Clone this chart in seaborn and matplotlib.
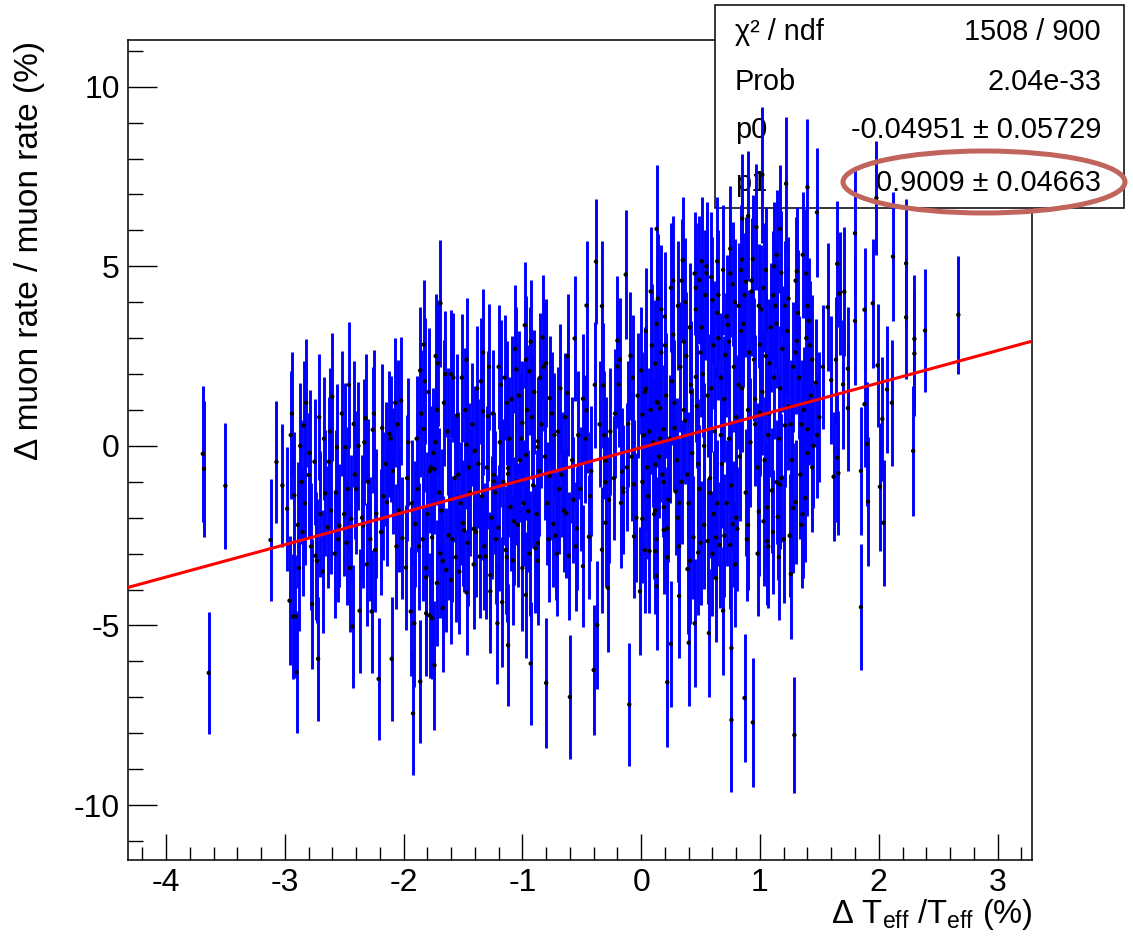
import numpy as np
import pandas as pd
import matplotlib
matplotlib.use("Agg")
import matplotlib.pyplot as plt
import seaborn as sns
from matplotlib.patches import Rectangle, Ellipse
from matplotlib.ticker import MultipleLocator, FixedLocator

# ---------------- data ----------------
# isolated points on the far left
x_far = [-3.69, -3.68, -3.64, -3.50]
y_far = [-0.22, -0.64, -6.32, -1.11]
e_far = [1.90, 1.90, 1.70, 1.75]

# -3.1 .. -1.8
x_left = [-3.12, -3.07, -2.98, -2.96, -2.93, -2.91, -2.90, -2.92, -2.87, -2.84,
          -2.80, -2.75, -2.77, -2.72, -2.74, -2.66, -2.64, -2.63, -2.60, -2.56,
          -2.54, -2.49, -2.46, -2.44, -2.43, -2.42, -2.40, -2.37, -2.34, -2.32,
          -2.27, -2.26, -2.23, -2.21, -2.14, -2.12, -2.10, -2.07, -2.06, -2.02,
          -2.01, -1.98, -1.94, -1.92, -1.91, -1.90, -1.83, -1.83, -1.86, -1.81,
          -1.81]
y_left = [-2.62, -0.45, -1.75, -4.31, -4.75, -4.75, -6.30, -1.38, 0.00, 0.57,
          -0.81, -0.44, -4.40, -5.93, -3.06, -1.32, -2.27, -0.44, 1.37, -0.04,
          -2.22, -0.04, 1.70, -2.03, -5.03, 0.61, -1.20, -4.59, -2.22, 0.77,
          -4.61, 0.45, -1.89, -6.49, -1.57, 0.33, -5.93, 1.20, -2.80, 1.26,
          -2.57, -3.39, -4.61, -7.45, -4.94, -2.17, 2.82, 0.47, -6.56, -3.66,
          -4.66]
e_left = [1.70, 1.70, 1.72, 1.80, 1.75, 1.70, 1.70, 1.78, 1.75, 1.80,
          1.72, 1.75, 1.80, 1.72, 1.78, 1.75, 1.70, 1.80, 1.78, 1.75,
          1.72, 1.80, 1.75, 1.78, 1.70, 1.75, 1.80, 1.72, 1.75, 1.78,
          1.70, 1.75, 1.80, 1.70, 1.78, 1.75, 1.72, 1.80, 1.75, 1.78,
          1.70, 1.75, 1.80, 1.70, 1.78, 1.75, 1.80, 1.75, 1.72, 1.78,
          1.75]

# -1.8 .. -0.35
x_mid = [-1.69, -1.73, -1.74, -1.78, -1.76, -1.78, -1.76, -1.74, -1.72, -1.67,
         -1.64, -1.62, -1.59, -1.60, -1.55, -1.50, -1.47, -1.49, -1.41, -1.47,
         -1.40, -1.36, -1.33, -1.31, -1.27, -1.29, -1.24, -1.24, -1.21, -1.20,
         -1.17, -1.13, -1.12, -1.12, -1.12, -1.08, -1.05, -1.05, -1.00, -0.98,
         -0.97, -0.95, -0.94, -0.97, -0.93, -0.89, -0.87, -0.87, -0.87, -0.83,
         -0.80, -0.77, -0.77, -0.74, -0.65, -0.63, -0.62, -0.61, -0.60, -0.56,
         -0.49, -0.49, -0.46, -0.46, -0.44, -0.40, -0.38, -0.37]
y_mid = [3.97, 0.10, -0.65, -0.70, -2.55, -4.72, -4.80, -6.11, -3.82, -4.51,
         -3.45, -2.49, -2.60, -3.73, 0.85, -2.15, 0.03, -2.35, -2.31, -4.08,
         -0.14, -3.08, 0.96, -3.08, -4.05, 0.83, -0.81, -0.99, -4.94, -2.28,
         -4.35, 1.20, -0.62, -0.78, -5.55, -3.19, 2.13, -0.99, 0.64, 3.36,
         -0.25, -1.82, 2.08, -4.15, -6.06, -2.85, -2.71, 0.13, -0.03, 3.02,
         -6.60, 1.33, -0.84, -2.17, -1.80, -1.88, 1.47, -3.06, -6.99, 2.99,
         1.31, -3.35, 3.91, 0.99, -2.53, -6.24, 5.13, -4.99]
e_mid = [1.77, 1.75, 1.80, 1.72, 1.78, 1.75, 1.70, 1.80, 1.75, 1.78,
         1.72, 1.80, 1.75, 1.78, 1.70, 1.75, 1.80, 1.72, 1.78, 1.75,
         1.80, 1.70, 1.78, 1.75, 1.72, 1.80, 1.75, 1.78, 1.70, 1.75,
         1.80, 1.72, 1.78, 1.75, 1.70, 1.80, 1.75, 1.78, 1.72, 1.75,
         1.80, 1.70, 1.78, 1.75, 1.72, 1.80, 1.75, 1.78, 1.70, 1.75,
         1.80, 1.72, 1.78, 1.75, 1.70, 1.80, 1.75, 1.78, 1.72, 1.75,
         1.80, 1.70, 1.78, 1.75, 1.72, 1.80, 1.75, 1.78]

# -0.35 .. 1.06
x_cen = [-0.33, -0.32, -0.30, -0.30, -0.30, -0.33, -0.28, -0.20, -0.20, -0.19,
         -0.16, -0.17, -0.15, -0.15, -0.13, -0.09, -0.11, -0.06, -0.06, -0.01,
         -0.10, 0.01, 0.01, 0.04, 0.07, 0.12, 0.12, 0.13, 0.13, 0.12,
         0.13, 0.16, 0.13, 0.13, 0.19, 0.19, 0.19, 0.19, 0.22, 0.25,
         0.29, 0.32, 0.32, 0.35, 0.36, 0.39, 0.40, 0.44, 0.45, 0.46,
         0.48, 0.49, 0.51, 0.55, 0.56, 0.57, 0.58, 0.60, 0.63, 0.63,
         0.64, 0.66, 0.69, 0.71, 0.73, 0.75, 0.75, 0.76, 0.76, 0.77,
         0.81, 0.85, 0.85, 0.87, 0.94, 0.97, 1.00, 1.00, 0.99, 1.06,
         1.06, 1.05, 0.88]
y_cen = [3.89, 1.68, -0.41, -1.01, -2.14, -2.89, -3.95, 2.93, 2.21, 1.71,
         -0.72, -1.59, -1.18, -1.29, 4.77, 2.51, 0.61, -1.07, -2.52, -4.05,
         -7.20, 0.87, -2.03, 1.59, -2.93, -2.93, -0.52, 6.04, 3.40, 2.29,
         1.22, 1.05, -3.62, -3.91, 0.46, -1.01, -1.71, -2.34, -6.58, -5.51,
         -1.27, -4.18, -1.59, 5.17, 1.00, -3.43, -5.48, -2.55, -4.94, 1.92,
         -2.97, 4.62, 5.14, 4.81, -2.65, -5.21, -1.31, 4.06, -2.55, -3.68,
         5.14, -2.76, -4.59, 2.53, 3.37, 5.49, -2.76, -5.63, -7.63, -2.18,
         -2.31, 6.33, 5.19, -7.02, -7.70, 6.09, 2.82, 0.93, -1.83, -1.71,
         -2.65, 2.50, 4.57]
e_cen = [1.80, 1.75, 1.78, 1.72, 1.80, 1.75, 1.78, 1.80, 1.72, 1.75,
         1.78, 1.80, 1.75, 1.72, 1.80, 1.78, 1.75, 1.80, 1.72, 1.78,
         1.70, 1.75, 1.80, 1.78, 1.72, 1.75, 1.80, 1.77, 1.75, 1.78,
         1.80, 1.72, 1.75, 1.78, 1.80, 1.75, 1.72, 1.78, 1.80, 1.75,
         1.78, 1.72, 1.80, 1.75, 1.78, 1.80, 1.75, 1.72, 1.78, 1.80,
         1.75, 1.78, 1.80, 1.72, 1.75, 1.78, 1.80, 1.75, 1.72, 1.78,
         1.80, 1.75, 1.78, 1.72, 1.80, 1.75, 1.78, 1.80, 2.00, 1.75,
         1.72, 1.80, 1.75, 1.78, 1.80, 1.75, 1.72, 1.78, 1.80, 1.75,
         1.78, 1.72, 1.80]

# 1.0 .. 2.7 (last six are the bars reaching behind the stats box)
x_rt = [1.17, 1.14, 1.36, 1.18, 1.31, 1.11, 1.41, 1.31, 1.53, 1.47,
        1.41, 1.50, 1.21, 1.40, 1.40, 1.44, 1.14, 1.17, 1.10, 1.28,
        1.30, 1.38, 1.15, 1.26, 1.29, 1.65, 1.57, 1.67, 1.71, 1.64,
        1.60, 1.74, 1.70, 1.74, 1.65, 1.66, 1.62, 1.80, 1.80, 1.88,
        1.95, 1.88, 1.85, 1.90, 1.91, 1.85, 1.99, 2.07, 2.11, 2.12,
        2.03, 2.01, 2.04, 2.23, 2.23, 2.30, 2.30, 2.29, 2.39, 2.67,
        1.02, 1.22, 1.40, 1.48, 1.98, 0.90]
y_rt = [6.04, 5.32, 5.32, 4.82, 4.86, 4.19, 3.48, 2.92, 2.20, 1.76,
        1.23, 0.80, 0.57, 0.46, -0.20, -0.60, -1.01, -1.08, -1.24, -1.73,
        -1.57, -1.45, -1.98, -3.57, -8.05, 5.07, 3.86, 4.24, 4.29, 2.40,
        1.83, 2.15, 1.71, 1.05, -0.33, -0.76, -0.86, 5.92, 3.48, 3.79,
        3.97, 1.16, -0.70, 0.05, -1.55, -4.49, 2.24, 1.57, 1.20, 5.27,
        0.75, -1.14, -2.14, 5.08, 3.58, 2.98, 2.57, -0.14, 3.21, 3.65,
        7.55, 7.30, 7.20, 6.50, 6.90, 6.40]
e_rt = [1.78, 1.80, 1.75, 1.72, 1.80, 1.78, 1.75, 1.80, 1.72, 1.78,
        1.75, 1.80, 1.72, 1.78, 1.75, 1.80, 1.72, 1.78, 1.75, 1.80,
        1.72, 1.78, 1.75, 1.80, 1.62, 1.75, 1.78, 1.72, 1.80, 1.75,
        1.78, 1.72, 1.80, 1.75, 1.78, 1.72, 1.80, 1.75, 1.78, 1.72,
        1.80, 1.75, 1.78, 1.72, 1.80, 1.75, 1.72, 1.78, 1.75, 1.80,
        1.72, 1.78, 1.75, 1.80, 1.72, 1.78, 1.75, 1.80, 1.72, 1.64,
        1.89, 1.86, 1.90, 1.80, 1.58, 1.80]

# crowded bars inside the solid blue band (centre)
x_den = [0.02, 0.05, 0.08, 0.10, 0.15, 0.17, 0.21, 0.24, 0.27, 0.30,
         0.33, 0.37, 0.41, 0.43, 0.47, 0.50, 0.53, 0.59, 0.62, 0.65,
         0.68, 0.70, 0.74, 0.78, 0.80, 0.83, 0.86, 0.90, 0.92, 0.95,
         0.98, 1.02, 1.07, 1.09, 1.12, 1.16, 1.19, 1.24, 1.27, 1.33,
         1.35, 1.39, 1.43]
y_den = [0.30, -0.60, 1.00, 0.10, -0.30, 2.60, 1.40, 0.20, 3.10, -0.40,
         2.20, 0.70, 3.30, -0.20, 1.10, 2.60, 0.00, 1.60, 0.40, 3.00,
         -0.50, 1.30, 0.20, 2.20, 0.80, -0.30, 3.40, 1.00, 0.10, 2.40,
         -0.60, 1.50, 0.30, 3.30, 1.90, 0.20, 2.70, 1.10, -0.40, 1.90,
         0.60, 3.00, 1.40]
e_den = [1.80, 1.75, 1.78, 1.80, 1.72, 1.80, 1.75, 1.78, 1.80, 1.72,
         1.80, 1.75, 1.78, 1.80, 1.72, 1.80, 1.75, 1.78, 1.80, 1.72,
         1.80, 1.75, 1.78, 1.80, 1.72, 1.80, 1.75, 1.78, 1.80, 1.72,
         1.80, 1.75, 1.78, 1.80, 1.72, 1.80, 1.75, 1.78, 1.80, 1.72,
         1.80, 1.75, 1.78]

x_den2 = [0.00, 0.03, 0.06, 0.09, 0.11, 0.14, 0.18, 0.20, 0.23, 0.26,
          0.28, 0.31, 0.34, 0.38, 0.40, 0.42, 0.46, 0.49, 0.52, 0.54,
          0.58, 0.61, 0.64, 0.67, 0.72, 0.76, 0.79, 0.82, 0.84, 0.88,
          0.91, 0.93, 0.96, 1.01, 1.04, 1.08, 1.13, 1.18, 1.23, 1.26,
          1.30, 1.34, 1.37, 1.42, 1.45, -0.31, -0.27, -0.22, -0.18, -0.12,
          -0.07, -0.04]
y_den2 = [2.10, 1.50, -1.40, 2.80, -1.90, 1.20, -0.80, 3.60, -1.50, 1.80,
          0.50, 3.90, -1.00, 2.50, -1.60, 1.50, 3.80, -1.20, 2.00, 4.20,
          -0.90, 2.80, -1.60, 1.90, 3.60, -1.10, 4.00, 1.70, 3.20, -1.30,
          2.60, 4.30, 0.60, 3.80, -0.40, 2.30, 3.90, -0.90, 3.20, 0.60,
          2.60, -0.80, 1.00, 2.80, 0.00, 0.30, -1.50, 0.90, 2.40, -0.60,
          1.90, -2.00]
e_den2 = [1.78, 1.80, 1.75, 1.72, 1.80, 1.78, 1.75, 1.80, 1.72, 1.78,
          1.75, 1.80, 1.72, 1.78, 1.75, 1.80, 1.72, 1.78, 1.75, 1.80,
          1.72, 1.78, 1.75, 1.80, 1.72, 1.78, 1.75, 1.80, 1.72, 1.78,
          1.75, 1.80, 1.72, 1.78, 1.75, 1.80, 1.72, 1.78, 1.75, 1.80,
          1.72, 1.78, 1.75, 1.80, 1.72, 1.78, 1.75, 1.80, 1.72, 1.78,
          1.75, 1.80]

x_den3 = [0.01, 0.04, 0.07, 0.12, 0.14, 0.16, 0.20, 0.22, 0.25, 0.28,
          0.31, 0.34, 0.36, 0.39, 0.42, 0.45, 0.48, 0.51, 0.53, 0.56,
          0.59, 0.61, 0.64, 0.67, 0.69, 0.72, 0.74, 0.77, 0.80, 0.82,
          0.85, 0.87, 0.90, 0.93, 0.96, 0.99, 1.03, 1.05, 1.08, 1.11,
          1.14, 1.17, 1.20, 1.24, 1.28, 1.32, 1.36, 1.40, 1.44, 1.48]
y_den3 = [-1.00, 3.20, 0.40, -1.80, 4.10, 0.20, 2.80, -2.30, 4.40, 1.20,
          -2.00, 4.60, 2.90, -0.80, 1.70, 4.80, -0.50, 3.30, -2.20, 1.40,
          4.70, -1.90, 3.70, 0.30, 4.90, -1.60, 2.90, 4.50, -2.00, 3.90,
          1.60, 4.20, -2.20, 4.60, 1.30, 3.90, -2.10, 4.90, 0.90, -2.40,
          3.40, 1.60, -2.60, 4.10, 2.20, 3.70, -1.90, 3.90, 2.40, 0.30]
e_den3 = [1.80, 1.75, 1.78, 1.72, 1.80, 1.75, 1.78, 1.72, 1.80, 1.75,
          1.78, 1.72, 1.80, 1.75, 1.78, 1.72, 1.80, 1.75, 1.78, 1.72,
          1.80, 1.75, 1.78, 1.72, 1.80, 1.75, 1.78, 1.72, 1.80, 1.75,
          1.78, 1.72, 1.80, 1.75, 1.78, 1.72, 1.80, 1.75, 1.78, 1.72,
          1.80, 1.75, 1.78, 1.72, 1.80, 1.75, 1.78, 1.72, 1.80, 1.75]

x_den4 = [0.03, 0.08, 0.13, 0.17, 0.22, 0.27, 0.32, 0.37, 0.41, 0.46,
          0.50, 0.55, 0.60, 0.65, 0.70, 0.75, 0.79, 0.84, 0.89, 0.94,
          0.98, 1.03, 1.07, 1.12, 1.16, 1.21, 1.25, 1.30, 1.35, 1.39]
y_den4 = [-2.90, 4.30, -2.60, 3.80, -3.10, 4.60, -2.80, 4.00, -3.20, 4.40,
          -2.70, 5.00, -3.00, 4.20, -2.50, 4.80, -3.30, 4.90, -2.60, 5.20,
          -3.00, 4.40, -2.80, 5.00, -3.10, 3.90, -2.50, 4.60, -2.20, 4.80]
e_den4 = [1.75, 1.80, 1.72, 1.78, 1.75, 1.80, 1.72, 1.78, 1.75, 1.80,
          1.72, 1.78, 1.75, 1.80, 1.72, 1.78, 1.75, 1.80, 1.72, 1.78,
          1.75, 1.80, 1.72, 1.78, 1.75, 1.80, 1.72, 1.78, 1.75, 1.80]

# crowded bars, -1.9 .. -0.35
x_fm = [-1.88, -1.85, -1.80, -1.70, -1.66, -1.57, -1.52, -1.45, -1.38, -1.34,
        -1.26, -1.19, -1.15, -1.10, -1.02, -0.96, -0.91, -0.84, -0.79, -0.70,
        -0.67, -0.53, -0.51, -0.42, -0.35, -0.26, -0.23, -0.08, -0.03]
y_fm = [-1.20, 0.90, -1.90, -1.30, 1.20, -0.90, -1.60, -0.60, 1.60, -1.40,
        -2.00, 0.10, 1.90, -1.70, -0.40, 1.00, -1.10, 0.60, -1.60, 0.40,
        -0.80, 0.30, -1.20, -0.70, 0.60, 0.40, -0.90, -0.30, 1.40]
e_fm = [1.75, 1.78, 1.72, 1.80, 1.75, 1.78, 1.72, 1.80, 1.75, 1.78,
        1.72, 1.80, 1.75, 1.78, 1.72, 1.80, 1.75, 1.78, 1.72, 1.80,
        1.75, 1.78, 1.72, 1.80, 1.75, 1.78, 1.72, 1.80, 1.75]

x_fm2 = [-1.89, -1.84, -1.79, -1.75, -1.71, -1.68, -1.63, -1.58, -1.54, -1.48,
         -1.44, -1.39, -1.35, -1.30, -1.25, -1.22, -1.16, -1.11, -1.07, -1.03,
         -0.99, -0.92, -0.88, -0.85, -0.81, -0.75, -0.72, -0.68, -0.58, -0.54,
         -0.47, -0.43, -0.39]
y_fm2 = [0.20, -2.60, 1.50, -0.20, 2.30, -1.80, 0.40, 1.90, -0.80, 1.00,
         -1.30, -2.40, 1.80, -0.60, 0.90, -2.60, -1.00, 0.20, -2.10, 1.40,
         -1.60, 0.80, -1.90, 1.90, -0.30, 0.90, -2.50, 1.60, -0.40, -2.30,
         0.20, -1.40, 1.70]
e_fm2 = [1.75, 1.72, 1.78, 1.80, 1.75, 1.72, 1.78, 1.80, 1.75, 1.72,
         1.78, 1.80, 1.75, 1.72, 1.78, 1.80, 1.75, 1.72, 1.78, 1.80,
         1.75, 1.72, 1.78, 1.80, 1.75, 1.72, 1.78, 1.80, 1.75, 1.72,
         1.78, 1.80, 1.75]

x_fm3 = [-1.87, -1.82, -1.77, -1.72, -1.69, -1.65, -1.61, -1.56, -1.51, -1.46,
         -1.42, -1.37, -1.32, -1.28, -1.23, -1.18, -1.14, -1.09, -1.04, -1.01,
         -0.97, -0.94, -0.90, -0.86, -0.82, -0.78, -0.73, -0.69, -0.64, -0.57]
y_fm3 = [-2.80, 1.80, -0.60, 1.00, -3.00, 2.00, -1.50, -3.10, 1.90, -2.70,
         0.60, -0.50, -2.80, 2.20, -1.30, 1.70, -2.90, 1.30, -2.20, 0.20,
         2.40, -3.00, 1.50, -0.70, 2.20, -2.60, 0.30, -1.20, 0.80, -1.50]
e_fm3 = [1.78, 1.75, 1.72, 1.80, 1.78, 1.75, 1.72, 1.80, 1.78, 1.75,
         1.72, 1.80, 1.78, 1.75, 1.72, 1.80, 1.78, 1.75, 1.72, 1.80,
         1.78, 1.75, 1.72, 1.80, 1.78, 1.75, 1.72, 1.80, 1.78, 1.75]

x_fm4 = [-1.86, -1.81, -1.73, -1.67, -1.60, -1.53, -1.47, -1.41, -1.33, -1.27,
         -1.20, -1.13, -1.06, -1.00, -0.93, -0.87, -0.80, -0.71, -0.62, -0.55]
y_fm4 = [2.10, -3.40, 2.50, -3.20, 2.00, -3.50, 2.40, -3.30, 2.60, -3.60,
         2.20, -3.10, 2.70, -3.40, 2.90, -3.20, 2.30, -3.00, 2.50, -2.80]
e_fm4 = [1.78, 1.75, 1.72, 1.80, 1.78, 1.75, 1.72, 1.80, 1.78, 1.75,
         1.72, 1.80, 1.78, 1.75, 1.72, 1.80, 1.78, 1.75, 1.72, 1.80]

# crowded bars, -3.0 .. -1.9
x_fl = [-2.89, -2.86, -2.82, -2.70, -2.67, -2.58, -2.52, -2.47, -2.38, -2.30,
        -2.24, -2.18, -2.09, -2.04, -1.96, -1.93, -3.02, -2.95, -2.88, -2.83,
        -2.78, -2.71, -2.68, -2.61, -2.55, -2.50, -2.45, -2.35, -2.31, -2.25,
        -2.19, -2.15, -2.05, -1.97, -2.94, -2.85, -2.79, -2.73, -2.62, -2.57,
        -2.48, -2.41, -2.33, -2.28, -2.17, -2.11]
y_fl = [-2.20, -1.00, 1.20, -1.90, 0.20, -3.00, 0.90, -1.20, 0.00, -1.00,
        -2.90, 0.50, -0.70, -1.80, 0.10, -1.60, -1.10, 0.30, -3.40, -1.60,
        -2.80, 0.80, -3.50, -1.80, -2.60, -1.90, -3.40, -2.00, -3.30, 0.90,
        -2.40, -0.50, 0.60, -0.90, 0.90, -2.40, -0.20, -3.20, 0.40, -1.30,
        -2.70, -0.80, 0.10, -2.60, -1.40, 0.20]
e_fl = [1.75, 1.72, 1.78, 1.75, 1.72, 1.78, 1.75, 1.72, 1.78, 1.75,
        1.72, 1.78, 1.75, 1.72, 1.78, 1.75, 1.72, 1.78, 1.75, 1.72,
        1.78, 1.75, 1.72, 1.78, 1.75, 1.72, 1.78, 1.75, 1.72, 1.78,
        1.75, 1.72, 1.78, 1.75, 1.72, 1.78, 1.75, 1.72, 1.78, 1.75,
        1.72, 1.78, 1.75, 1.72, 1.78, 1.75]

# fit result shown in the stats box
p0 = -0.04951
p1 = 0.9009
stat_names = ["χ² / ndf", "Prob", "p0", "p1"]
stat_values = ["1508 / 900", "2.04e-33", "-0.04951 ± 0.05729", "0.9009 ± 0.04663"]

x_ticks = [-4, -3, -2, -1, 0, 1, 2, 3]
y_ticks = [-10, -5, 0, 5, 10]
x_range = (-4.32, 3.29)
y_range = (-11.53, 11.30)

# ---------------- figure ----------------
xs = (x_far + x_left + x_mid + x_cen + x_rt + x_den + x_den2 + x_den3 + x_den4
      + x_fm + x_fm2 + x_fm3 + x_fm4 + x_fl)
ys = (y_far + y_left + y_mid + y_cen + y_rt + y_den + y_den2 + y_den3 + y_den4
      + y_fm + y_fm2 + y_fm3 + y_fm4 + y_fl)
es = (e_far + e_left + e_mid + e_cen + e_rt + e_den + e_den2 + e_den3 + e_den4
      + e_fm + e_fm2 + e_fm3 + e_fm4 + e_fl)
df = pd.DataFrame({"dT": xs, "dR": ys, "err": es})

sns.set_theme(style="white")
plt.rcParams["font.family"] = ["Liberation Sans", "DejaVu Sans"]
plt.rcParams["mathtext.fontset"] = "custom"
plt.rcParams["mathtext.rm"] = "Liberation Sans"
plt.rcParams["mathtext.it"] = "Liberation Sans:italic"
plt.rcParams["axes.unicode_minus"] = False
plt.rcParams["text.color"] = "black"
plt.rcParams["xtick.color"] = "black"
plt.rcParams["ytick.color"] = "black"
plt.rcParams["xtick.labelcolor"] = "black"
plt.rcParams["ytick.labelcolor"] = "black"

W, H = 1133, 944
fig = plt.figure(figsize=(W / 100, H / 100), dpi=100)
fig.patch.set_facecolor("white")
ax = fig.add_axes([128 / W, 1 - 860 / H, (1032 - 128) / W, (860 - 40) / H])
ax.set_facecolor("white")

ax.errorbar(df["dT"], df["dR"], yerr=df["err"], fmt="none", ecolor="#0000ff",
            elinewidth=2.1, capsize=0, zorder=3)
sns.scatterplot(data=df, x="dT", y="dR", ax=ax, color="black", s=10,
                edgecolor="none", linewidth=0, zorder=4, legend=False)

xl = np.array(x_range)
sns.lineplot(x=xl, y=p0 + p1 * xl, ax=ax, color="#ff0000", linewidth=2.2,
             zorder=5, legend=False)

ax.set_xlim(*x_range)
ax.set_ylim(*y_range)
ax.set_xlabel("")
ax.set_ylabel("")

ax.xaxis.set_major_locator(FixedLocator(x_ticks))
ax.xaxis.set_minor_locator(MultipleLocator(0.2))
ax.yaxis.set_major_locator(FixedLocator(y_ticks))
ax.yaxis.set_minor_locator(MultipleLocator(1))
ax.set_xticklabels([str(v) for v in x_ticks])
ax.set_yticklabels([str(v) for v in y_ticks])

ax.tick_params(axis="x", which="major", direction="in", length=18.7, width=1.0,
               labelsize=23, pad=6, bottom=True, top=False, color="black",
               labelcolor="black")
ax.tick_params(axis="x", which="minor", direction="in", length=9.4, width=1.0,
               bottom=True, top=False, color="black")
ax.tick_params(axis="y", which="major", direction="in", length=20.9, width=1.0,
               labelsize=23, pad=6, left=True, right=False, color="black",
               labelcolor="black")
ax.tick_params(axis="y", which="minor", direction="in", length=10.8, width=1.0,
               left=True, right=False, color="black")
for s in ax.spines.values():
    s.set_color("black")
    s.set_linewidth(1.1)

# axis titles (ROOT style, aligned to the axis ends)
fig.text(1033 / W, 1 - 915 / H, r"Δ T$_{\mathrm{eff}}$ /T$_{\mathrm{eff}}$ (%)",
         ha="right", va="center", fontsize=23.5, color="black")
fig.text(30 / W, 1 - 41 / H, "Δ muon rate / muon rate (%)", rotation=90,
         ha="center", va="top", fontsize=24, color="black")

# stats box
ax.add_patch(Rectangle((715 / W, 1 - 208 / H), (1124 - 715) / W, (208 - 5) / H,
                       transform=fig.transFigure, facecolor="white",
                       edgecolor="black", linewidth=1.1, clip_on=False, zorder=2.6))
rows_y = [32, 82, 130, 183]
for name, val, yy in zip(stat_names, stat_values, rows_y):
    ax.text(735 / W, 1 - yy / H, name, transform=fig.transFigure, ha="left",
            va="center", fontsize=20.8, color="black", zorder=2.7, clip_on=False)
    ax.text(1101 / W, 1 - yy / H, val, transform=fig.transFigure, ha="right",
            va="center", fontsize=20.8, color="black", zorder=2.7, clip_on=False)

ax.add_patch(Ellipse((984 / W, 1 - 182 / H), 282 / W, 62 / H,
                     transform=fig.transFigure, fill=False, edgecolor="#c0645c",
                     linewidth=3.6, clip_on=False, zorder=10))

fig.savefig("out.png", dpi=100, facecolor="white")
